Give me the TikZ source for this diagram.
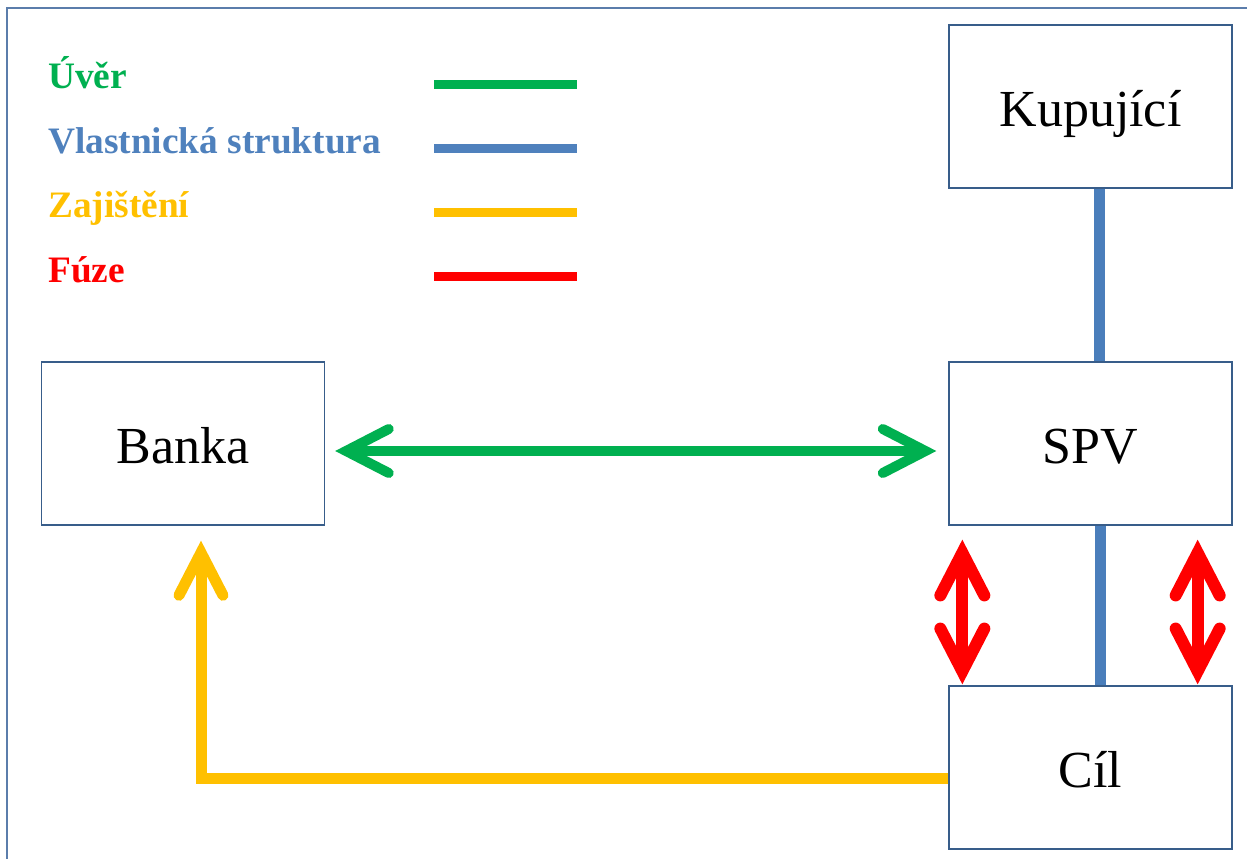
\documentclass[tikz,border=0pt]{standalone}
\usepackage{fontspec}
\setmainfont{Liberation Serif}
\usetikzlibrary{arrows.meta,calc}

\definecolor{boxblue}{HTML}{385D8A}
\definecolor{frameblue}{HTML}{5B7DAB}
\definecolor{ownblue}{HTML}{4A7EBB}
\definecolor{legblue}{HTML}{4F81BD}
\definecolor{loangreen}{HTML}{00B050}
\definecolor{secyellow}{HTML}{FFC000}
\definecolor{mergered}{HTML}{FF0000}

\tikzset{
  party/.style={draw=boxblue, line width=1pt, fill=white, inner sep=0pt,
    minimum width=212.25pt, minimum height=122.25pt,
    text height=29.6pt, text depth=0pt,
    font=\fontsize{39}{40}\selectfont},
  legtext/.style={anchor=base west, inner sep=0pt,
    font=\fontsize{28}{30}\selectfont\bfseries},
  legline/.style={line width=6.75pt},
  barb/.style={-{Straight Barb[length=32pt,width=33pt,line cap=round,line join=miter]}},
  dbarb/.style={{Straight Barb[length=32pt,width=33pt,line cap=round,line join=miter]}-{Straight Barb[length=32pt,width=33pt,line cap=round,line join=miter]}},
  loan/.style={draw=loangreen, line width=7.5pt, dbarb},
  owns/.style={draw=ownblue, line width=8.25pt},
  secures/.style={draw=secyellow, line width=8.25pt, barb, line join=miter},
  merges/.style={draw=mergered, line width=9pt, dbarb},
}

\begin{document}
\begin{tikzpicture}[x=0.75pt, y=-0.75pt]
  \useasboundingbox (0,0) rectangle (1247,859);

  % outer frame
  \draw[frameblue, line width=1.5pt] (7,875) |- (1265,8);

  % legend
  \node[legtext, text=loangreen] (lgA) at (48,89) {Úvěr};
  \node[legtext, text=legblue]   (lgB) at (48,154) {Vlastnická struktura};
  \node[legtext, text=secyellow] (lgC) at (48,218) {Zajištění};
  \node[legtext, text=mergered]  (lgD) at (48,283) {Fúze};
  \draw[legline, loangreen] (434,85)  -- (577,85);
  \draw[legline, legblue]   (434,149) -- (577,149);
  \draw[legline, secyellow] (434,213) -- (577,213);
  \draw[legline, mergered]  (434,277) -- (577,277);

  % parties
  \node[party] (kup)   at (1090.5,106.5) {Kupující};
  \node[party] (spv)   at (1090.5,443.5) {SPV};
  \node[party] (cil)   at (1090.5,767.5) {Cíl};
  \node[party] (banka) at (183,443.5)    {Banka};

  % ownership
  \draw[owns] ($(kup.south)+(8.5,0)$) -- ($(spv.north)+(8.5,0)$);
  \draw[owns] ($(spv.south)+(9.5,0)$) -- ($(cil.north)+(9.5,0)$);

  % loan
  \draw[loan] ($(banka.east)+(10,7.5)$) -- ($(spv.west)+(-12,7.5)$);

  % merger
  \draw[merges] ($(spv.south west)+(14,14)$) -- ($(cil.north west)+(14,-1)$);
  \draw[merges] ($(spv.south east)+(-35,14)$) -- ($(cil.north east)+(-35,-1)$);

  % security
  \draw[secures] ($(cil.west)+(0,10.5)$) -| ($(banka.south)+(18,15)$);
\end{tikzpicture}
\end{document}
